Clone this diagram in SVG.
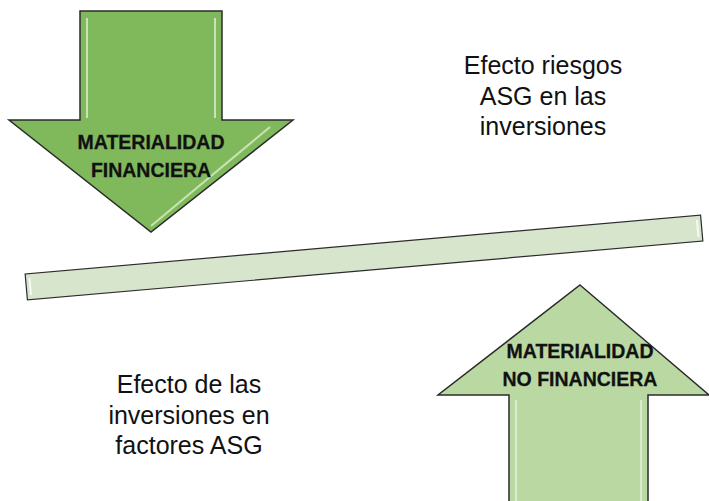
<svg xmlns="http://www.w3.org/2000/svg" width="709" height="501" viewBox="0 0 709 501">
<style>
.arrow{stroke:#2b2b2b;stroke-width:1.5;stroke-linejoin:miter}
.hl{fill:none;stroke:#e8f5dd;stroke-width:2;opacity:0.7}
.lbl{font-family:"Liberation Sans",Arial,sans-serif;font-weight:bold;font-size:19.5px;fill:#111;text-anchor:middle;stroke:#1a1a1a;stroke-width:0.3}
.txt{font-family:"Liberation Sans",Arial,sans-serif;font-size:25px;fill:#111;text-anchor:middle}
</style>
<rect width="709" height="501" fill="#ffffff"/>
<g id="materialidad-financiera">
<polygon class="arrow" fill="#80b85c" points="80,11 222,11 222,120 293,120 151,232 9,120 80,120"/>
<path class="hl" d="M87,18 L87,118 M215,18 L215,118"/>
<path class="hl" d="M151,226 L270,127" opacity="0.5"/>
<text class="lbl" x="151" y="149">MATERIALIDAD</text>
<text class="lbl" x="151" y="177">FINANCIERA</text>
</g>
<g id="balanza">
<g transform="rotate(-4.99 364 257.5)">
<rect x="25" y="244.5" width="678" height="26" fill="#d7e5cd" stroke="#2b2b2b" stroke-width="1.2"/>
<path d="M29,249 L29,266 M699,249 L699,266" stroke="#ffffff" stroke-width="2" opacity="0.8"/>
</g>
</g>
<g id="materialidad-no-financiera">
<polygon class="arrow" fill="#b9d8a2" points="580,285 709,395 648,395 648,502 509,502 509,395 438,395"/>
<path class="hl" d="M516,400 L516,501 M641,400 L641,501"/>
<text class="lbl" x="580" y="358">MATERIALIDAD</text>
<text class="lbl" x="580" y="386">NO FINANCIERA</text>
</g>
<g id="texto-riesgos">
<text class="txt" x="543" y="74">Efecto riesgos</text>
<text class="txt" x="543" y="105">ASG en las</text>
<text class="txt" x="543" y="135">inversiones</text>
</g>
<g id="texto-inversiones">
<text class="txt" x="189" y="393">Efecto de las</text>
<text class="txt" x="189" y="424">inversiones en</text>
<text class="txt" x="189" y="454">factores ASG</text>
</g>
<g id="connectors"></g>
</svg>
